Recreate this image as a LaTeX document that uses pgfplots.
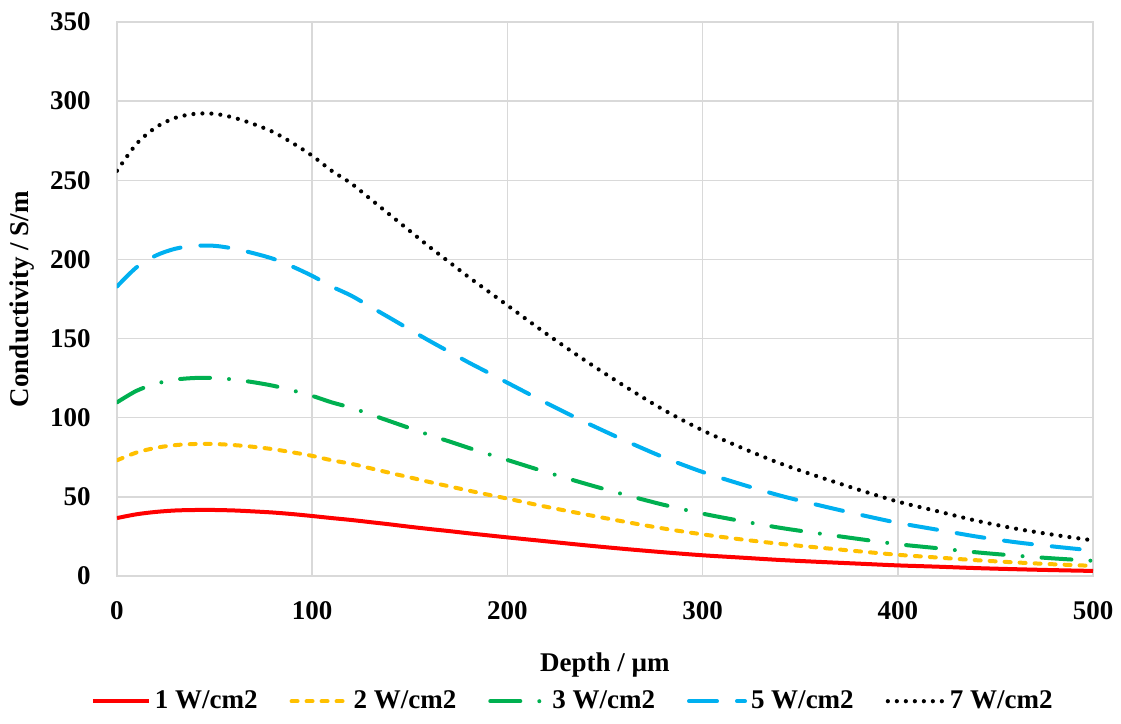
\documentclass[border=0pt]{standalone}
\usepackage{fontspec}
\setmainfont{Liberation Serif}
\usepackage{pgfplots}
\pgfplotsset{compat=1.18}
\definecolor{cRed}{HTML}{FF0000}
\definecolor{cYel}{HTML}{FFC000}
\definecolor{cGrn}{HTML}{00B050}
\definecolor{cBlu}{HTML}{00B0F0}
\definecolor{cGrid}{HTML}{D9D9D9}
\begin{document}
\fontsize{13.5pt}{16pt}\selectfont
\begin{tikzpicture}
\useasboundingbox (-58.5pt,-74pt) rectangle (502pt,288pt);
\begin{axis}[
  at={(0,0)}, anchor=south west,
  scale only axis, width=488pt, height=277pt,
  xmin=0, xmax=500, ymin=0, ymax=350,
  xtick={0,100,...,500}, ytick={0,50,...,350},
  major tick length=0pt,
  grid=major,
  grid style={cGrid, line width=0.75pt},
  axis line style={cGrid, line width=0.75pt},
  /pgf/number format/assume math mode=true,
  every tick label/.append style={font=\fontsize{13.5pt}{16pt}\selectfont\bfseries},
  xticklabel style={anchor=center, yshift=-17.5pt},
  yticklabel style={anchor=east, xshift=-8.5pt},
  xlabel={\bfseries Depth / µm},
  ylabel={\bfseries Conductivity / S/m},
  xlabel style={at={(axis description cs:0.5,-0.16)}, anchor=center},
  ylabel style={at={(axis description cs:-0.0973,0.5)}, anchor=center, rotate=0},
  legend columns=5,
  legend style={at={(0.468,-0.226)}, anchor=center, draw=none, fill=none,
    font=\fontsize{13.5pt}{16pt}\selectfont\bfseries,
    /tikz/every even column/.append style={column sep=14pt},
    /tikz/every odd column/.append style={column sep=0pt}},
  legend image code/.code={\draw[#1] (0pt,0pt) -- (28pt,0pt);},
  legend cell align=left,
]
\addplot[cRed, line width=2pt, smooth] coordinates {
(0,36.6)(10,39)(20,40.5)(30,41.4)(40,41.7)(50,41.7)(60,41.4)(70,40.8)(80,40.1)(90,39.1)(100,37.9)(110,36.6)(120,35.4)(130,34)(140,32.6)(150,31.1)(160,29.7)(170,28.4)(180,27)(190,25.7)(200,24.4)(220,21.9)(240,19.4)(260,17.1)(280,15)(300,13.1)(320,11.6)(340,10.1)(360,8.9)(380,7.8)(400,6.7)(420,5.9)(440,5)(460,4.3)(480,3.7)(500,3.2)};
\addlegendentry{1 W/cm2}
\addplot[cYel, line width=2pt, line cap=round, dash pattern=on 3pt off 4.5pt, smooth] coordinates {
(0,73.1)(10,78)(20,81)(30,82.7)(40,83.4)(50,83.4)(60,82.7)(70,81.6)(80,80.1)(90,78.1)(100,75.9)(110,73.1)(120,70.9)(130,68)(140,65.1)(150,62.3)(160,59.4)(170,56.7)(180,54)(190,51.4)(200,48.9)(220,43.7)(240,38.9)(260,34.3)(280,30)(300,26.3)(320,23.1)(340,20.3)(360,17.9)(380,15.6)(400,13.4)(420,11.7)(440,10)(460,8.6)(480,7.4)(500,6.4)};
\addlegendentry{2 W/cm2}
\addplot[cGrn, line width=2pt, line cap=round, dash pattern=on 15pt off 9.5pt on 0pt off 9.5pt, smooth] coordinates {
(0,109.7)(10,117)(20,121.5)(30,124.1)(40,125.1)(50,125.1)(60,124.1)(70,122.4)(80,120.2)(90,117.2)(100,113.8)(110,109.7)(120,106.3)(130,102)(140,97.7)(150,93.4)(160,89.1)(170,85.1)(180,81)(190,77.1)(200,73.3)(220,65.6)(240,58.3)(260,51.4)(280,45)(300,39.4)(320,34.7)(340,30.4)(360,26.8)(380,23.4)(400,20.1)(420,17.6)(440,15)(460,12.9)(480,11.1)(500,9.6)};
\addlegendentry{3 W/cm2}
\addplot[cBlu, line width=2pt, line cap=round, dash pattern=on 14pt off 10pt, smooth] coordinates {
(0,182.9)(10,195)(20,202.5)(30,206.8)(40,208.6)(50,208.6)(60,206.8)(70,203.9)(80,200.4)(90,195.4)(100,189.6)(110,182.9)(120,177.1)(130,170)(140,162.9)(150,155.7)(160,148.6)(170,141.8)(180,135)(190,128.6)(200,122.1)(220,109.3)(240,97.1)(260,85.7)(280,75)(300,65.7)(320,57.9)(340,50.7)(360,44.6)(380,38.9)(400,33.6)(420,29.3)(440,25)(460,21.4)(480,18.6)(500,16.1)};
\addlegendentry{5 W/cm2}
\addplot[black, line width=2.1pt, line cap=round, dash pattern=on 0pt off 4.5pt, smooth] coordinates {
(0,256)(10,273)(20,283.5)(30,289.5)(40,292)(50,292)(60,289.5)(70,285.5)(80,280.5)(90,273.5)(100,265.5)(110,256)(120,248)(130,238)(140,228)(150,218)(160,208)(170,198.5)(180,189)(190,180)(200,171)(220,153)(240,136)(260,120)(280,105)(300,92)(320,81)(340,71)(360,62.5)(380,54.5)(400,47)(420,41)(440,35)(460,30)(480,26)(500,22.5)};
\addlegendentry{7 W/cm2}
\end{axis}
\end{tikzpicture}
\end{document}
